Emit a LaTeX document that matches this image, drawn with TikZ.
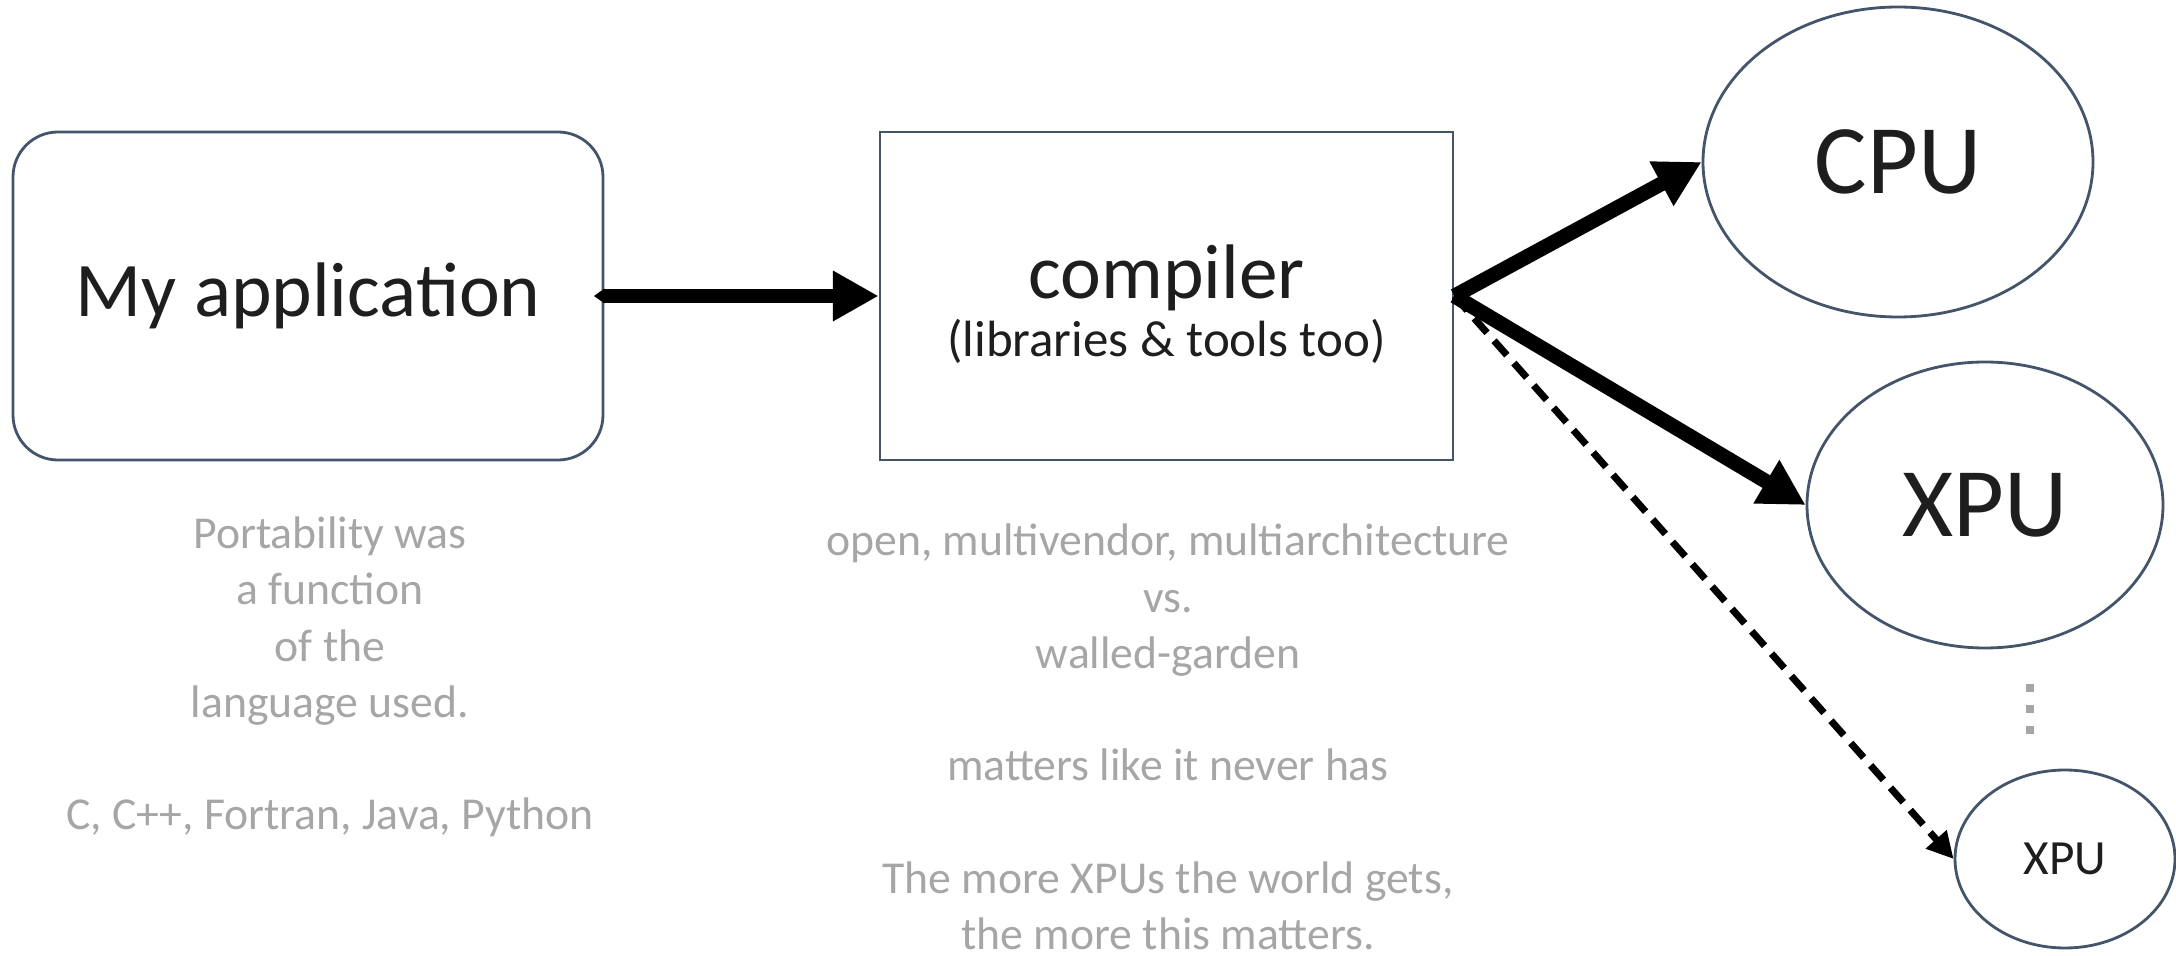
\documentclass[tikz,border=0pt]{standalone}
\usepackage{fontspec}
\setmainfont{Carlito}
\usepackage{xcolor}
\definecolor{boxline}{RGB}{68,84,106}
\definecolor{labeltext}{RGB}{30,30,30}
\definecolor{notegray}{RGB}{166,166,166}
\usepackage{tikz}
\usetikzlibrary{arrows.meta, positioning, shapes.geometric}

\begin{document}
\begin{tikzpicture}[
    every node/.style={font=\fontsize{13}{16}\selectfont},
    appbox/.style={draw=boxline, line width=0.8pt, rounded corners=0.45cm,
                   minimum width=5.9cm, minimum height=3.28cm, align=center,
                   text=labeltext, font=\fontsize{22}{26}\selectfont},
    compbox/.style={draw=boxline, line width=0.8pt,
                    minimum width=5.73cm, minimum height=3.28cm, align=center,
                    text=labeltext, font=\fontsize{22}{26}\selectfont},
    procnode/.style={draw=boxline, ellipse, line width=0.8pt, inner sep=0pt,
                     text=labeltext, font=\fontsize{28}{32}\selectfont},
    notetext/.style={text=notegray, align=center, font=\fontsize{13}{16}\selectfont},
    arr/.style={-{Triangle[length=13pt, width=13.5pt]}, line width=4.2pt},
    dasharr/.style={-{Triangle[length=7.5pt, width=7.5pt]}, line width=2pt,
                    dash pattern=on 5.5pt off 3pt},
]
\useasboundingbox (0,0) rectangle (21.76,-9.56);

% ===== LEFT: application and compiler =====
\node[appbox] (app) at (3.08,-2.96) {My application};
\node[compbox] (comp) at (11.665,-2.96)
      {\rule{0pt}{20pt}compiler\\[-9.5pt]{\fontsize{14.5}{17}\selectfont (libraries \& tools too)}};

% ===== RIGHT: targets =====
\node[procnode, minimum width=3.90cm, minimum height=3.10cm] (cpu) at (18.98,-1.62) {CPU};
\node[procnode, minimum width=3.56cm, minimum height=2.86cm] (xpu) at (19.85,-5.05) {XPU};
\node[procnode, minimum width=2.20cm, minimum height=1.78cm,
      font=\fontsize{14}{17}\selectfont] (xpus) at (20.65,-8.59) {XPU};

% more targets
\draw[notegray, line width=0.08cm, dash pattern=on 0.08cm off 0.13cm]
      (20.30,-6.84) -- (20.30,-7.40);

% arrows
\draw[{Triangle[length=3pt, width=4pt]}-{Triangle[length=13pt, width=13.5pt]}, line width=4.2pt]
      ([xshift=-3pt]app.east) -- (comp.west);
\draw[arr] (comp.east) -- (cpu.west);
\draw[arr] (comp.east) -- (xpu.west);
\draw[dasharr] (comp.east) -- (xpus.west);

% ===== notes =====
\node[notetext] (appnote) at (3.30,-6.77)
      {Portability was\\a function\\of the\\language used.\\[16pt]C, C++, Fortran, Java, Python};
\node[notetext] (compnote) at (11.68,-7.37)
      {open, multivendor, multiarchitecture\\vs.\\walled-garden\\[16pt]matters like it never has\\[16pt]The more XPUs the world gets,\\the more this matters.};

\end{tikzpicture}
\end{document}
